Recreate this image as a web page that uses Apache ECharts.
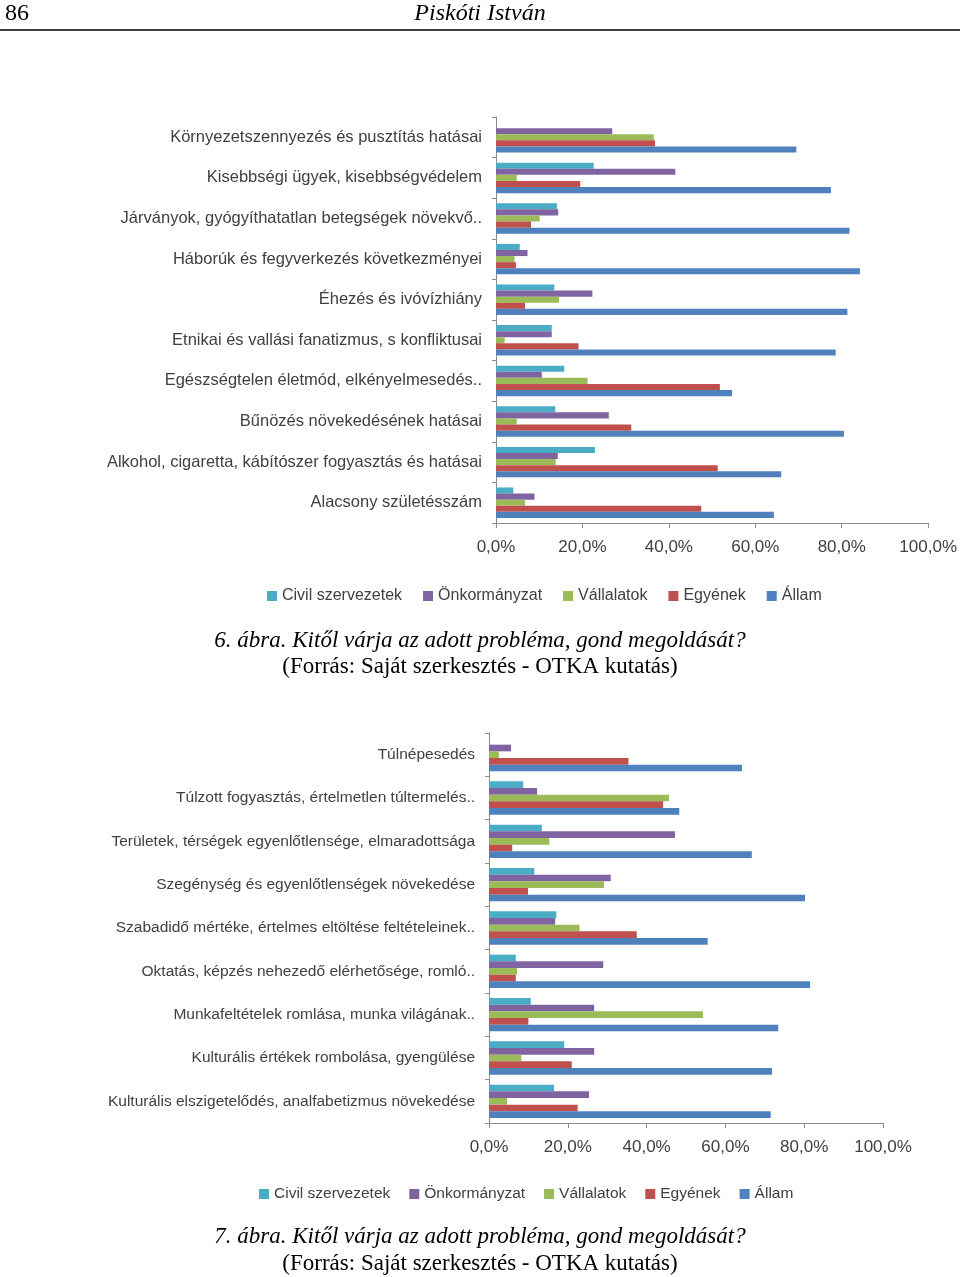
<!DOCTYPE html>
<html>
<head>
<meta charset="utf-8">
<script src="https://cdn.jsdelivr.net/npm/echarts@6/dist/echarts.min.js"></script>
<style>
  html, body { margin: 0; padding: 0; background: #fff; }
  #page { width: 960px; height: 1277px; }
</style>
</head>
<body>
<div id="page"></div>
<script>
// 6. ábra
const categories1 = [
  'Környezetszennyezés és pusztítás hatásai',
  'Kisebbségi ügyek, kisebbségvédelem',
  'Járványok, gyógyíthatatlan betegségek növekvő..',
  'Háborúk és fegyverkezés következményei',
  'Éhezés és ivóvízhiány',
  'Etnikai és vallási fanatizmus, s konfliktusai',
  'Egészségtelen életmód, elkényelmesedés..',
  'Bűnözés növekedésének hatásai',
  'Alkohol, cigaretta, kábítószer fogyasztás és hatásai',
  'Alacsony születésszám'
]
const civil1    = [null, 22.6, 14.1, 5.5, 13.5, 12.9, 15.8, 13.7, 22.9, 4.0]
const onkorm1   = [26.9, 41.5, 14.4, 7.3, 22.3, 12.9, 10.6, 26.1, 14.3, 8.9]
const vallalat1 = [36.5, 4.8, 10.1, 4.3, 14.6, 2.0, 21.2, 4.8, 13.8, 6.7]
const egyenek1  = [36.8, 19.5, 8.1, 4.6, 6.7, 19.1, 51.8, 31.3, 51.3, 47.5]
const allam1    = [69.5, 77.5, 81.8, 84.2, 81.3, 78.6, 54.6, 80.5, 66.0, 64.3]

// 7. ábra
const categories2 = [
  'Túlnépesedés',
  'Túlzott fogyasztás, értelmetlen túltermelés..',
  'Területek, térségek egyenlőtlensége, elmaradottsága',
  'Szegénység és egyenlőtlenségek növekedése',
  'Szabadidő mértéke, értelmes eltöltése feltételeinek..',
  'Oktatás, képzés nehezedő elérhetősége, romló..',
  'Munkafeltételek romlása, munka világának..',
  'Kulturális értékek rombolása, gyengülése',
  'Kulturális elszigetelődés, analfabetizmus növekedése'
]
const civil2    = [null, 8.7, 13.4, 11.5, 17.1, 6.8, 10.6, 19.1, 16.5]
const onkorm2   = [5.6, 12.2, 47.2, 30.9, 16.8, 29.0, 26.7, 26.7, 25.4]
const vallalat2 = [2.5, 45.7, 15.3, 29.2, 23.0, 7.1, 54.3, 8.2, 4.6]
const egyenek2  = [35.4, 44.2, 5.9, 9.9, 37.5, 6.8, 10.0, 21.0, 22.5]
const allam2    = [64.2, 48.3, 66.7, 80.2, 55.5, 81.5, 73.4, 71.8, 71.5]

const seriesNames = ['Civil szervezetek', 'Önkormányzat', 'Vállalatok', 'Egyének', 'Állam']
const colors = ['#4bacc6', '#8064a2', '#9bbb59', '#c0504d', '#4f81bd']

const sans = 'Liberation Sans, Arial, sans-serif'
const serif = 'Liberation Serif, Times New Roman, serif'

function pct(v) {
  return v.toFixed(1).replace('.', ',') + '%'
}

function makeAxes(idx, cats, labelSize) {
  return {
    x: {
      type: 'value', gridIndex: idx, min: 0, max: 100, interval: 20,
      axisLine: { show: true, lineStyle: { color: '#8c8c8c' } },
      axisTick: { show: true, length: 5, lineStyle: { color: '#8c8c8c' } },
      splitLine: { show: false },
      axisLabel: { formatter: pct, color: '#404040', fontSize: 17, fontFamily: sans, margin: 16 }
    },
    y: {
      type: 'category', gridIndex: idx, data: cats, inverse: true,
      axisLine: { show: true, lineStyle: { color: '#8c8c8c' } },
      axisTick: { show: true, length: 4, lineStyle: { color: '#8c8c8c' } },
      axisLabel: { color: '#404040', fontSize: labelSize, fontFamily: sans, margin: 14 }
    }
  }
}

function makeSeries(idx, lists, gap) {
  return lists.map((data, i) => ({
    name: seriesNames[i],
    type: 'bar',
    xAxisIndex: idx,
    yAxisIndex: idx,
    data: data,
    barGap: '0%',
    barCategoryGap: gap,
    itemStyle: { color: colors[i] },
    animation: false
  }))
}

const chart = echarts.init(document.getElementById('page'))
const a1 = makeAxes(0, categories1, 16.5)
const a2 = makeAxes(1, categories2, 15.5)

function legendAt(left, top, size, gap) {
  return {
    left: left,
    top: top,
    data: seriesNames,
    itemWidth: 10,
    itemHeight: 10,
    itemGap: gap,
    icon: 'rect',
    textStyle: { color: '#404040', fontSize: size, fontFamily: sans }
  }
}

const option = {
  animation: false,
  grid: [
    { left: 496, right: 31, top: 117, bottom: 754 },
    { left: 489, right: 77, top: 733, bottom: 154 }
  ],
  xAxis: [a1.x, a2.x],
  yAxis: [a1.y, a2.y],
  legend: [
    legendAt(262, 583, 16, 21),
    legendAt(254, 1181, 15.5, 19)
  ],
  series: [
    ...makeSeries(0, [civil1, onkorm1, vallalat1, egyenek1, allam1], '25%'),
    ...makeSeries(1, [civil2, onkorm2, vallalat2, egyenek2, allam2], '23%')
  ],
  graphic: [
    { type: 'text', style: { text: '86', x: 5, y: 14, verticalAlign: 'middle', fill: '#000', font: '24px ' + serif } },
    { type: 'text', style: { text: 'Piskóti István', x: 480, y: 14, align: 'center', verticalAlign: 'middle', fill: '#000', font: 'italic 24px ' + serif } },
    { type: 'line', shape: { x1: 0, y1: 30, x2: 960, y2: 30 }, style: { stroke: '#000', lineWidth: 1.5 } },
    { type: 'text', style: { text: '6. ábra. Kitől várja az adott probléma, gond megoldását?', x: 480, y: 641, align: 'center', verticalAlign: 'middle', fill: '#000', font: 'italic 23px ' + serif } },
    { type: 'text', style: { text: '(Forrás: Saját szerkesztés - OTKA kutatás)', x: 480, y: 667, align: 'center', verticalAlign: 'middle', fill: '#000', font: '23px ' + serif } },
    { type: 'text', style: { text: '7. ábra. Kitől várja az adott probléma, gond megoldását?', x: 480, y: 1237, align: 'center', verticalAlign: 'middle', fill: '#000', font: 'italic 23px ' + serif } },
    { type: 'text', style: { text: '(Forrás: Saját szerkesztés - OTKA kutatás)', x: 480, y: 1264, align: 'center', verticalAlign: 'middle', fill: '#000', font: '23px ' + serif } }
  ]
}

chart.setOption(option)
</script>
</body>
</html>
